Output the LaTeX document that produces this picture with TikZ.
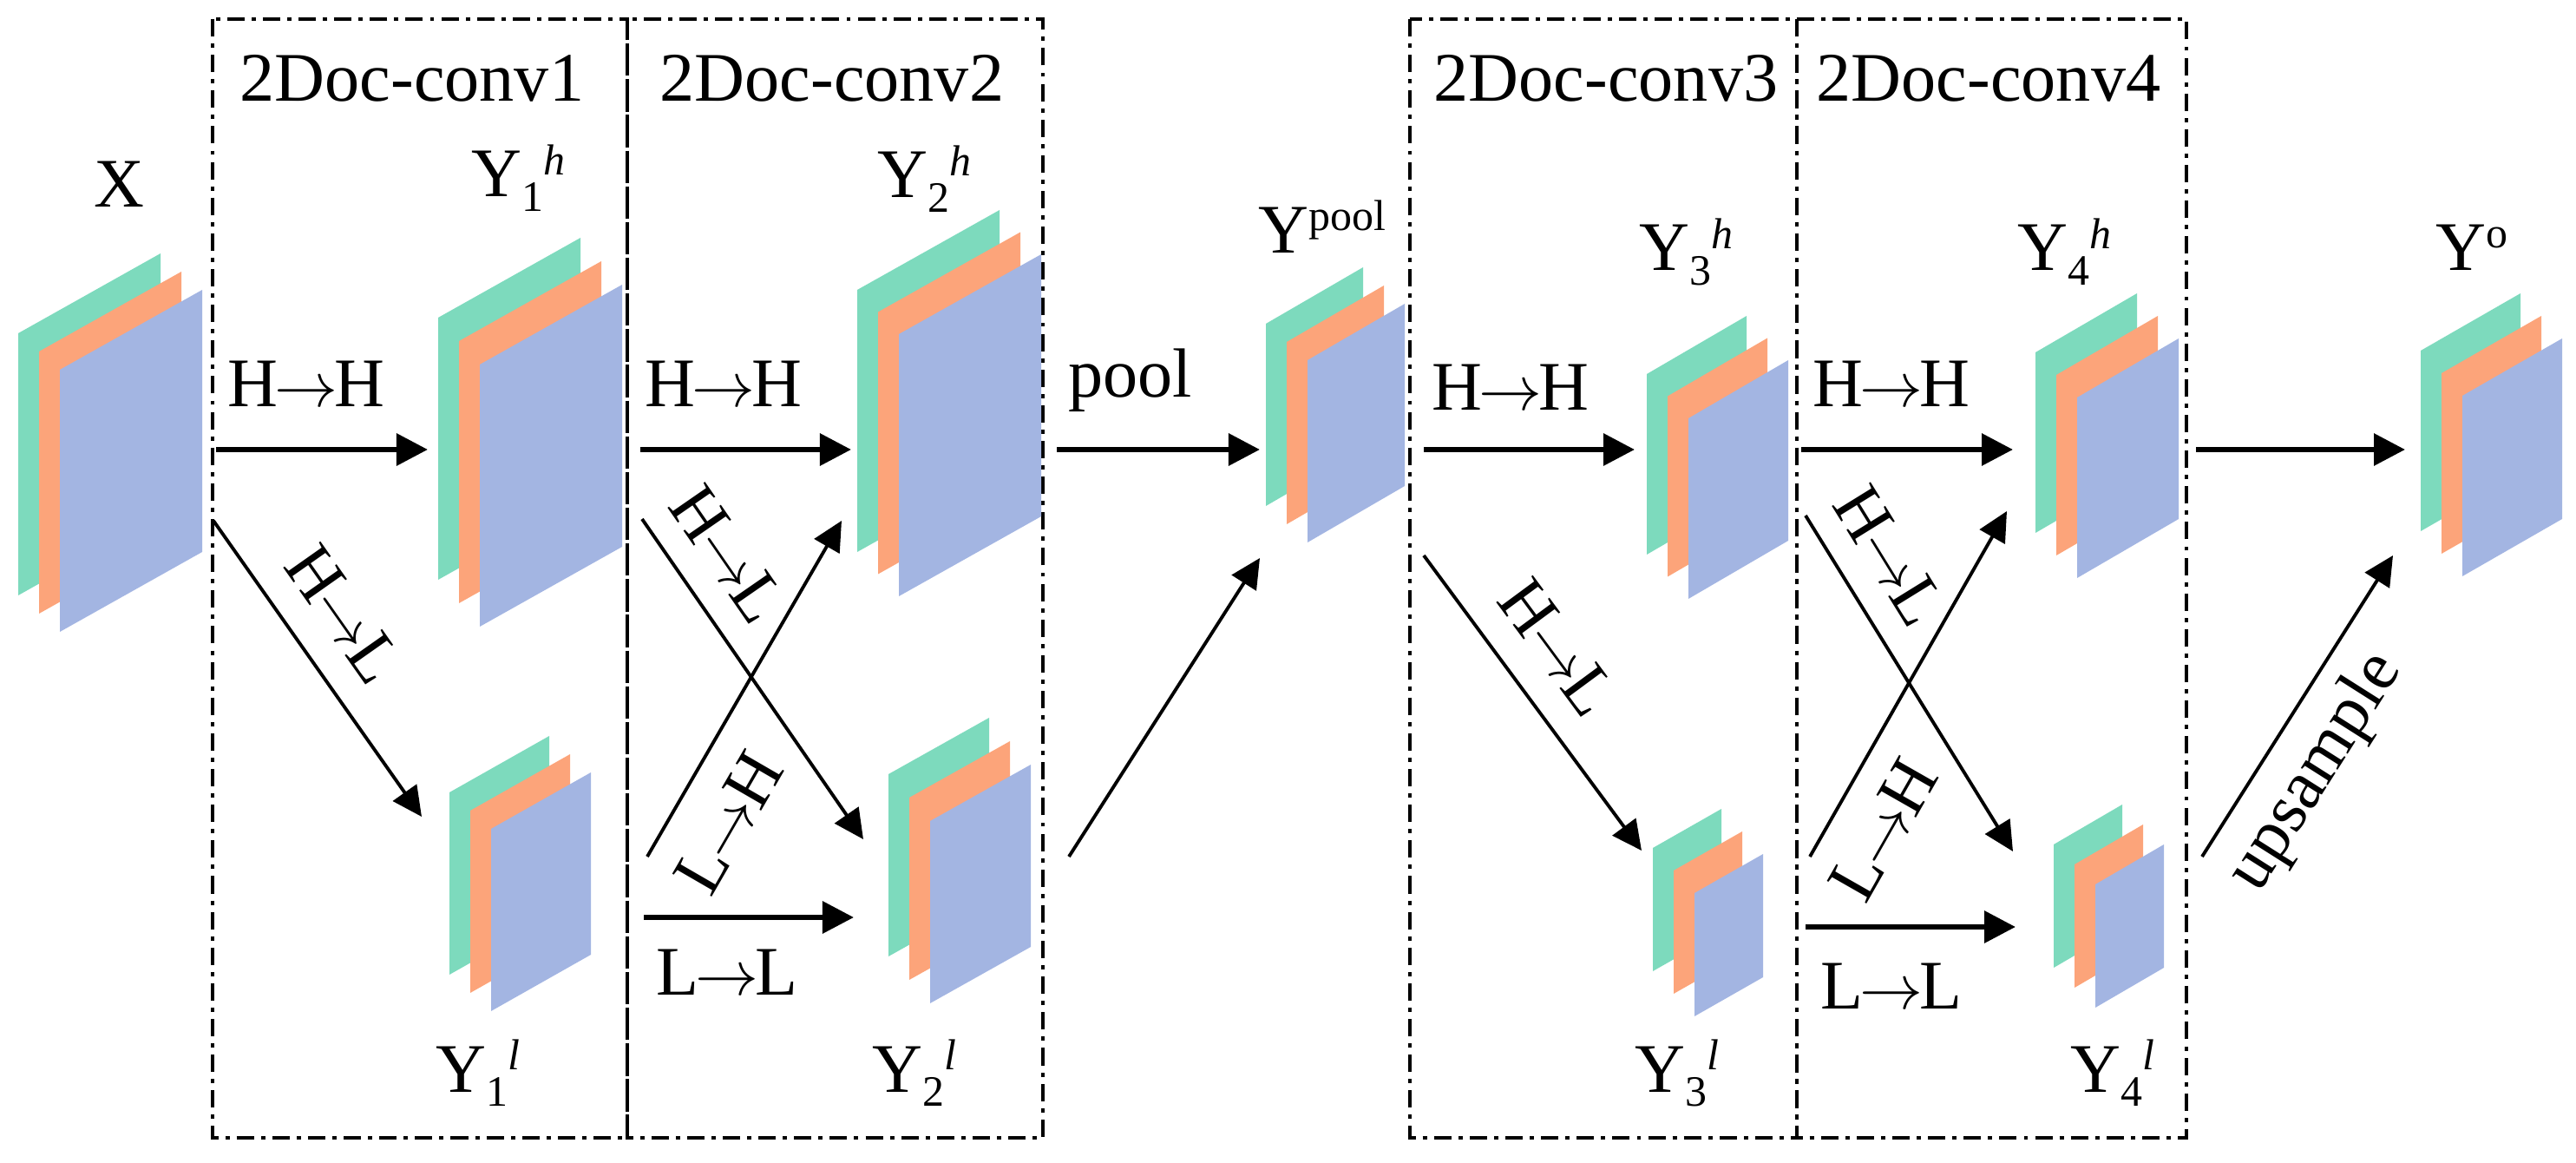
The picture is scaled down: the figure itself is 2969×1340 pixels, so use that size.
\documentclass[tikz,border=0pt]{standalone}
\usepackage{fontspec}
\setmainfont{Liberation Serif}
\usetikzlibrary{arrows.meta}
\definecolor{fmgreen}{RGB}{125,218,189}
\definecolor{fmorange}{RGB}{252,164,122}
\definecolor{fmblue}{RGB}{163,181,226}
\newcommand\scr{\fontsize{14.2}{16}\selectfont}
\newcommand\toarr{\ensuremath{\mkern-1mu\rightarrow\mkern-1mu}}
\newcommand\Ylab[2]{Y\raisebox{-0.16cm}{\scr #1}\raisebox{0.25cm}{\scr\itshape #2}}
\newcommand\fmstack[6]{%
  \foreach \i/\c in {0/fmgreen,1/fmorange,2/fmblue}{%
    \fill[\c] ({#1+24*\i},{#2+#6*\i}) -- ++(#3,-#5) -- ++(0,#4) -- ++(-#3,#5) -- cycle;
  }}
\begin{document}
\begin{tikzpicture}[x=0.01cm,y=-0.01cm,
  lab/.style={font=\fontsize{22.8}{27}\selectfont, inner sep=0pt},
  boxline/.style={line width=1.3pt, dash pattern=on 5.7pt off 2.3pt on 1.4pt off 2.3pt},
  harrow/.style={line width=1.8pt, -{Triangle[length=0.36cm,width=0.36cm]}},
  darrow/.style={line width=1.1pt, -{Triangle[length=0.34cm,width=0.33cm]}}]
\useasboundingbox (0,0) rectangle (2969,1340);

% dash-dot frames
\draw[boxline] (245,22) rectangle (723,1311);
\draw[boxline] (723,22) rectangle (1202,1311);
\draw[boxline] (1625,22) rectangle (2071,1311);
\draw[boxline] (2071,22) rectangle (2520,1311);

% feature-map stacks
\fmstack{21}{384}{164}{302}{92}{21}
\fmstack{505}{366}{164}{302}{92}{27}
\fmstack{988}{334}{164}{302}{92}{25.5}
\fmstack{1459}{373}{112}{210}{65}{21}
\fmstack{1898}{431}{115}{208}{67}{25.5}
\fmstack{2346}{406}{117}{208}{68}{26}
\fmstack{2790}{404}{115}{208}{66}{26}
\fmstack{518}{913}{115}{210}{65}{21}
\fmstack{1024}{892}{116}{210}{65}{27}
\fmstack{1905}{977}{79}{142}{45}{26}
\fmstack{2367}{973}{79}{142}{46}{23}

% titles
\node[lab, anchor=base] (t1) at (475,117) {2Doc-conv1};
\node[lab, anchor=base] (t2) at (959,117) {2Doc-conv2};
\node[lab, anchor=base] (t3) at (1851,117) {2Doc-conv3};
\node[lab, anchor=base] (t4) at (2292,117) {2Doc-conv4};

% map labels
\node[lab, anchor=base west] (nX) at (108,239) {X};
\node[lab, anchor=base west] (nY1h) at (543,227) {\Ylab{1}{h}};
\node[lab, anchor=base west] (nY2h) at (1011,228) {\Ylab{2}{h}};
\node[lab, anchor=base west] (nYp) at (1450,292) {Y\raisebox{0.26cm}{\scr pool}};
\node[lab, anchor=base west] (nY3h) at (1889,312) {\Ylab{3}{h}};
\node[lab, anchor=base west] (nY4h) at (2325,312) {\Ylab{4}{h}};
\node[lab, anchor=base west] (nYo) at (2807,312) {Y\raisebox{0.26cm}{\scr o}};
\node[lab, anchor=base west] (nY1l) at (502,1258) {\Ylab{1}{l}};
\node[lab, anchor=base west] (nY2l) at (1005,1258) {\Ylab{2}{l}};
\node[lab, anchor=base west] (nY3l) at (1884,1258) {\Ylab{3}{l}};
\node[lab, anchor=base west] (nY4l) at (2386,1258) {\Ylab{4}{l}};

% arrow end points
\coordinate (a1s) at (249,518);  \coordinate (a1e) at (493,518);
\coordinate (a2s) at (738,518);  \coordinate (a2e) at (981,518);
\coordinate (a3s) at (1218,518); \coordinate (a3e) at (1452,518);
\coordinate (a4s) at (1641,518); \coordinate (a4e) at (1884,518);
\coordinate (a5s) at (2076,518); \coordinate (a5e) at (2320,518);
\coordinate (a6s) at (2531,518); \coordinate (a6e) at (2772,518);
\coordinate (b2s) at (742,1057); \coordinate (b2e) at (984,1057);
\coordinate (b4s) at (2081,1068);\coordinate (b4e) at (2323,1068);
\coordinate (d1s) at (246,600);  \coordinate (d1e) at (486,941);
\coordinate (d2s) at (740,598);  \coordinate (d2e) at (995,967);
\coordinate (d3s) at (746,987);  \coordinate (d3e) at (970,600);
\coordinate (d4s) at (1232,987); \coordinate (d4e) at (1452,643);
\coordinate (d5s) at (1641,640); \coordinate (d5e) at (1892,980);
\coordinate (d6s) at (2081,594); \coordinate (d6e) at (2320,981);
\coordinate (d7s) at (2086,987); \coordinate (d7e) at (2313,589);
\coordinate (d8s) at (2538,987); \coordinate (d8e) at (2758,640);

% horizontal arrows
\draw[harrow] (a1s) -- (a1e);
\draw[harrow] (a2s) -- (a2e);
\draw[harrow] (a3s) -- (a3e);
\draw[harrow] (a4s) -- (a4e);
\draw[harrow] (a5s) -- (a5e);
\draw[harrow] (a6s) -- (a6e);
\draw[harrow] (b2s) -- (b2e);
\draw[harrow] (b4s) -- (b4e);

\node[lab, anchor=base west] (hh1) at (262,469) {H\toarr H};
\node[lab, anchor=base west] (hh2) at (743,469) {H\toarr H};
\node[lab, anchor=base west] (pl) at (1231,458) {pool};
\node[lab, anchor=base west] (hh3) at (1650,473) {H\toarr H};
\node[lab, anchor=base west] (hh4) at (2089,469) {H\toarr H};
\node[lab, anchor=base west] (ll2) at (756,1146) {L\toarr L};
\node[lab, anchor=base west] (ll4) at (2098,1162) {L\toarr L};

% diagonal arrows
\draw[darrow] (d1s) -- node[lab, sloped, pos=0.42, above=0.33cm] (hl1) {H\toarr L} (d1e);
\draw[darrow] (d2s) -- node[lab, sloped, pos=0.2, above=0.3cm] (hl2) {H\toarr L} (d2e);
\draw[darrow] (d3s) -- node[lab, sloped, pos=0.18, below=0.33cm] (lh2) {L\toarr H} (d3e);
\draw[darrow] (d4s) -- (d4e);
\draw[darrow] (d5s) -- node[lab, sloped, pos=0.42, above=0.33cm] (hl3) {H\toarr L} (d5e);
\draw[darrow] (d6s) -- node[lab, sloped, pos=0.2, above=0.3cm] (hl4) {H\toarr L} (d6e);
\draw[darrow] (d7s) -- node[lab, sloped, pos=0.15, below=0.3cm] (lh4) {L\toarr H} (d7e);
\draw[darrow] (d8s) -- node[lab, sloped, pos=0.37, below=0.21cm] (up) {upsample} (d8e);
\end{tikzpicture}
\end{document}
